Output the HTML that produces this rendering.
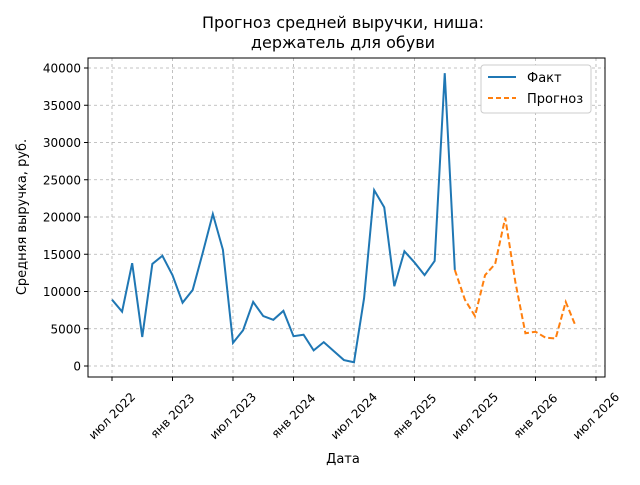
<!DOCTYPE html>
<html><head><meta charset="utf-8"><style>
body{margin:0;background:#fff;}
svg{font-family:"DejaVu Sans","Liberation Sans",sans-serif;}
</style></head><body>
<svg id="chart" width="640" height="480">
<rect width="640" height="480" fill="#fff"/>
<text x="343" y="28" text-anchor="middle" font-size="16">Прогноз средней выручки, ниша:</text>
<text x="343" y="48" text-anchor="middle" font-size="16">держатель для обуви</text>
<g id="grid"></g><g id="axes"></g><g id="series"></g>
<text x="343" y="463" text-anchor="middle" font-size="13">Дата</text>
<text transform="translate(26,217) rotate(-90)" text-anchor="middle" font-size="13">Средняя выручка, руб.</text>
<g>
<rect x="481" y="65" width="110" height="48" rx="3" fill="#fff" stroke="#ccc"/>
<line x1="488" y1="77" x2="516" y2="77" stroke="#1f77b4" stroke-width="2"/>
<text x="527" y="82" font-size="13">Факт</text>
<line x1="488" y1="98" x2="516" y2="98" stroke="#ff7f0e" stroke-width="2" stroke-dasharray="5,3"/>
<text x="527" y="103" font-size="13">Прогноз</text>
</g>
</svg>
<script>
const factValues=[8900,7300,13800,3900,13700,14800,12200,8500,10200,15200,20400,15600,3100,4800,8600,6700,6200,7400,4000,4200,2100,3200,2000,800,500,9100,23600,21300,10700,15400,13900,12200,14100,39300,12900];
const forecastValues=[12900,8900,6700,12200,13700,19900,11300,4400,4600,3800,3700,8600,5300];
const forecastStart=34;
const yTicks=[0,5000,10000,15000,20000,25000,30000,35000,40000];
const xTickLabels=["июл 2022","янв 2023","июл 2023","янв 2024","июл 2024","янв 2025","июл 2025","янв 2026","июл 2026"];
const xTickMonths=[0,6,12,18,24,30,36,42,48];
const L=88,R=605,T=58,B=377;
const xs=m=>112+m*10.083;
const ys=v=>366-v*(298/40000);
const NS="http://www.w3.org/2000/svg";
function mk(tag,attrs,parent){const e=document.createElementNS(NS,tag);for(const k in attrs)e.setAttribute(k,attrs[k]);parent.appendChild(e);return e;}
const grid=document.getElementById('grid'),axes=document.getElementById('axes'),series=document.getElementById('series');
yTicks.forEach(v=>{const y=ys(v);
const g=mk('line',{x1:L,x2:R,y1:y,y2:y,stroke:'#b0b0b0','stroke-width':0.8,'stroke-dasharray':'3,3'},grid);


mk('line',{x1:L-4,x2:L,y1:y,y2:y,stroke:'#000'},axes);
const t=mk('text',{x:L-7,y:y+4.5,'text-anchor':'end','font-size':12},axes);t.textContent=v;

});
xTickMonths.forEach((m,i)=>{const x=xs(m);
const g=mk('line',{x1:x,x2:x,y1:T,y2:B,stroke:'#b0b0b0','stroke-width':0.8,'stroke-dasharray':'3,3'},grid);


mk('line',{x1:x,x2:x,y1:B,y2:B+4,stroke:'#000'},axes);
const t=mk('text',{x:x,y:420,'text-anchor':'middle','font-size':12,transform:`rotate(-45 ${x} 416)`},axes);t.textContent=xTickLabels[i];

});
const fr=mk('rect',{x:L,y:T,width:R-L,height:B-T,fill:'none',stroke:'#000','stroke-width':1},axes);


const fp=mk('polyline',{points:factValues.map((v,i)=>xs(i)+','+ys(v)).join(' '),fill:'none',stroke:'#1f77b4','stroke-width':2},series);


const pp=mk('polyline',{points:forecastValues.map((v,i)=>xs(forecastStart+i)+','+ys(v)).join(' '),fill:'none',stroke:'#ff7f0e','stroke-width':2,'stroke-dasharray':'6,3'},series);


</script>
</body></html>
